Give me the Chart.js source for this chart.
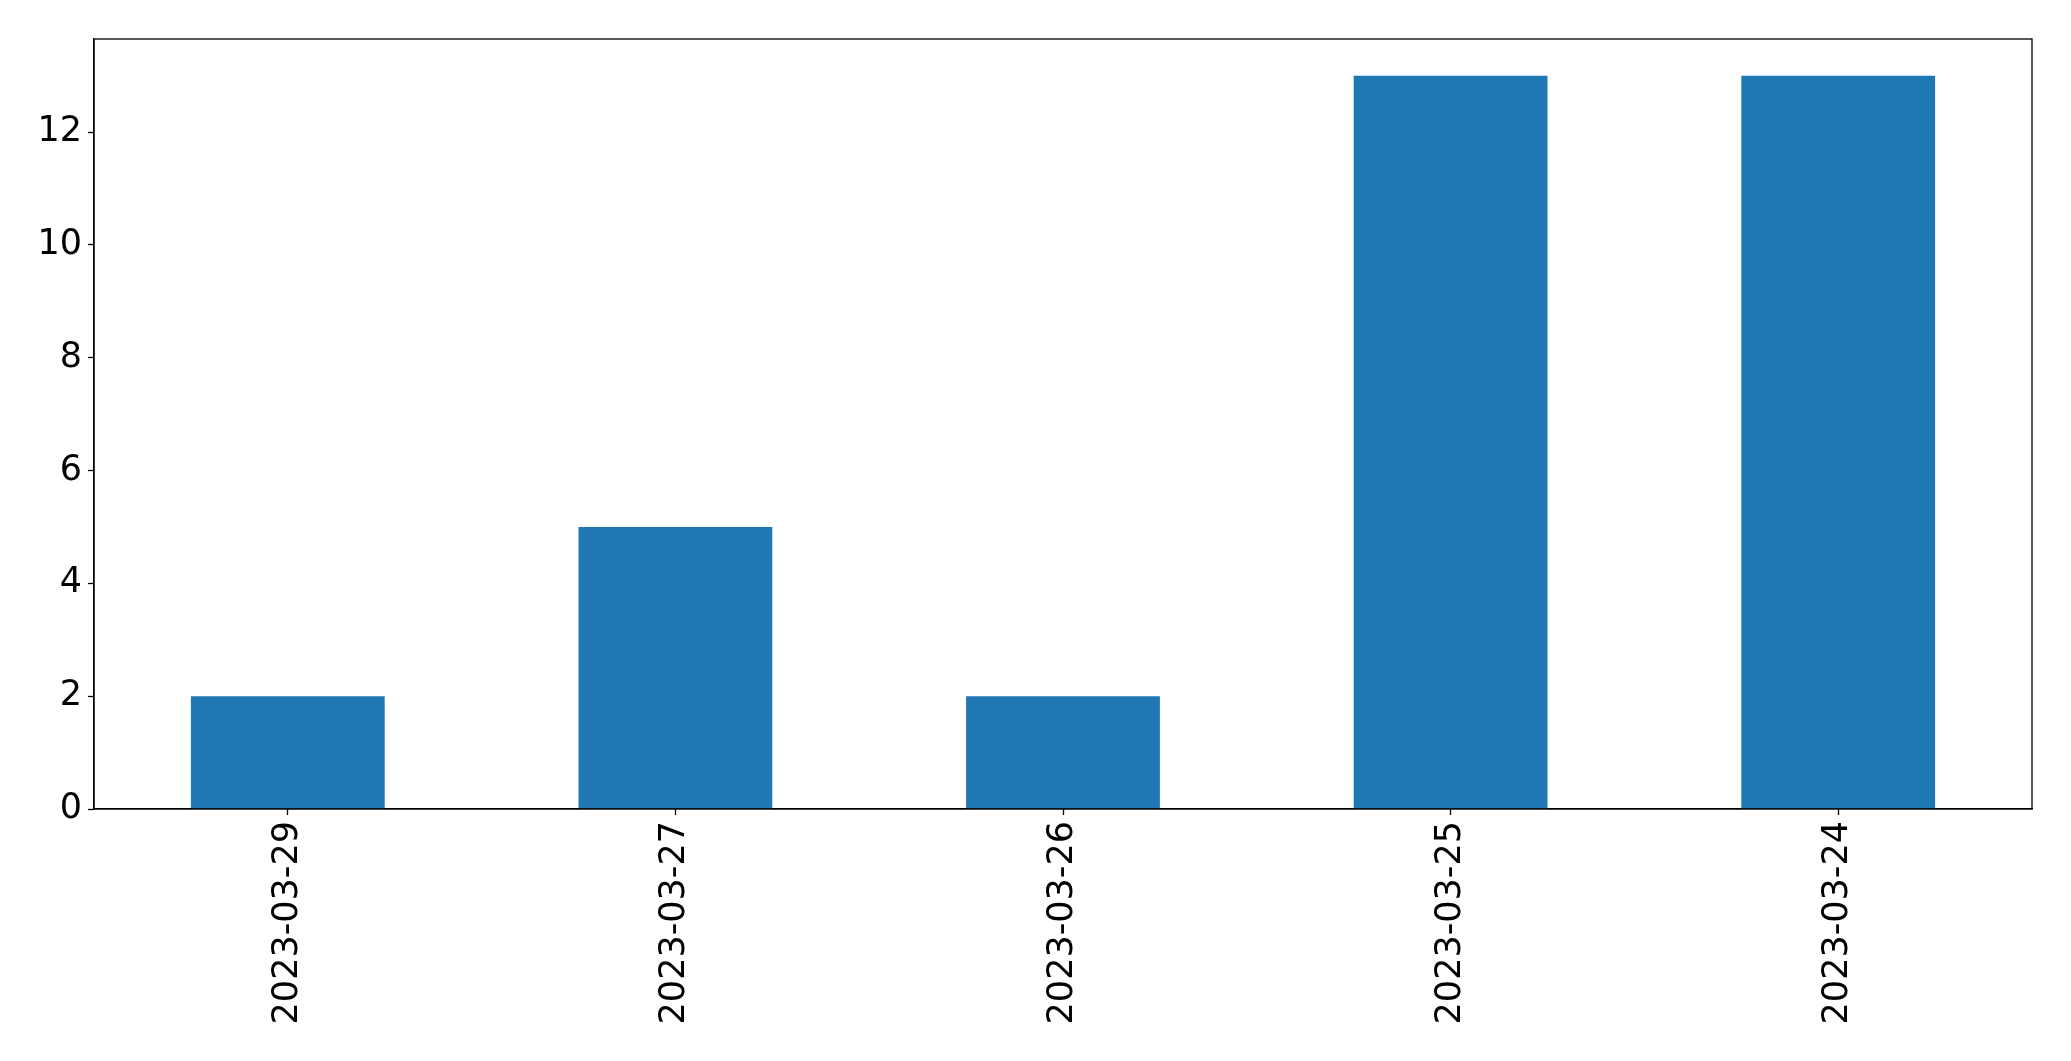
<!DOCTYPE html>
<html>
<head>
<meta charset="utf-8">
<script src="https://cdn.jsdelivr.net/npm/chart.js@4/dist/chart.umd.min.js"></script>
<style>
  html, body { margin: 0; padding: 0; background: #fff; }
  #wrap { width: 2071px; height: 1061px; }
</style>
</head>
<body>
<div id="wrap"><canvas id="chart" width="2071" height="1061"></canvas></div>
<script>
// Data
const dates = ['2023-03-29', '2023-03-27', '2023-03-26', '2023-03-25', '2023-03-24'];
const counts = [2, 5, 2, 13, 13];
const yTicks = [0, 2, 4, 6, 8, 10, 12];

// Frame round the plot area (matplotlib spines)
const frame = {
    id: 'frame',
    afterDraw(chart) {
        const a = chart.chartArea;
        const ctx = chart.ctx;
        ctx.save();
        ctx.strokeStyle = '#000';
        ctx.lineWidth = 1.3;
        ctx.strokeRect(a.left, a.top, a.right - a.left, a.bottom - a.top);
        ctx.restore();
    }
};

const font = { family: 'DejaVu Sans', size: 35 };

new Chart(document.getElementById('chart'), {
    type: 'bar',
    data: {
        labels: dates,
        datasets: [{
            data: counts,
            backgroundColor: '#1f77b4',
            categoryPercentage: 1,
            barPercentage: 0.5
        }]
    },
    options: {
        responsive: false,
        animation: false,
        layout: { padding: { top: 39, right: 39, left: 0, bottom: 0 } },
        plugins: { legend: { display: false }, tooltip: { enabled: false } },
        scales: {
            x: {
                offset: true,
                grid: { display: true, offset: false, drawOnChartArea: false, tickLength: 6, color: '#000', tickWidth: 1.3 },
                border: { display: true, color: '#000', width: 1.3 },
                ticks: { color: '#000', font, minRotation: 90, maxRotation: 90, padding: 6 },
                afterFit(scale) { scale.height = 252; }
            },
            y: {
                min: 0,
                max: 13.65,
                grid: { display: true, drawOnChartArea: false, tickLength: 6, color: '#000', tickWidth: 1.3 },
                border: { display: true, color: '#000', width: 1.3 },
                ticks: { color: '#000', font, stepSize: 2, padding: 6 },
                afterBuildTicks(scale) {
                    scale.ticks = yTicks.map(v => ({ value: v }));
                },
                afterFit(scale) { scale.width = 94; }
            }
        }
    },
    plugins: [frame]
});
</script>
</body>
</html>
